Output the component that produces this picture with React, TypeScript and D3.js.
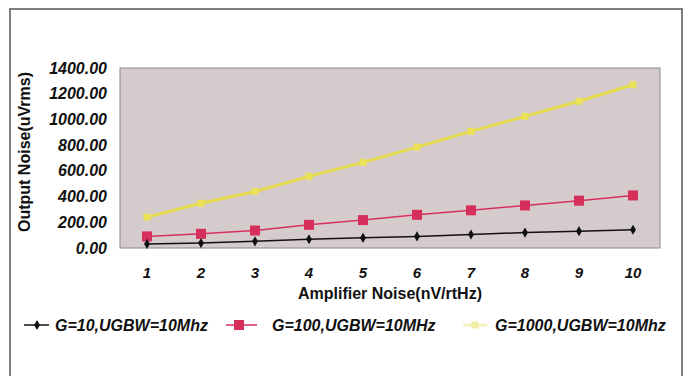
import React from "react";
import * as d3 from "d3";

const categories = [1, 2, 3, 4, 5, 6, 7, 8, 9, 10];
const g10 = [32, 38, 52, 68, 79, 90, 105, 120, 131, 142];
const g100 = [90, 110, 136, 180, 217, 258, 293, 331, 368, 409];
const g1000 = [240, 348, 440, 557, 666, 785, 907, 1024, 1141, 1270];
const yTicks = [0, 200, 400, 600, 800, 1000, 1200, 1400];
const seriesNames = ["G=10,UGBW=10Mhz", "G=100,UGBW=10MHz", "G=1000,UGBW=10Mhz"];

export default function App() {
  const W = 688, H = 376;
  const L = 120, R = 660, T = 68, B = 248;
  const x = d3.scaleBand<number>().domain(categories).range([L, R]);
  const y = d3.scaleLinear().domain([0, 1400]).range([B, T]);
  const cx = (c: number) => (x(c) as number) + x.bandwidth() / 2;
  const line = d3.line<number>().x((_, i) => cx(categories[i])).y((v) => y(v));
  const font = "Arial, 'Liberation Sans', sans-serif";
  const diamond = d3.symbol().type(d3.symbolDiamond).size(30)() as string;
  const red = "#d62f5c";
  const ly = 325;

  return (
    <svg width={W} height={H} style={{ position: "absolute", left: 0, top: 0 }} fontFamily={font}>
      <rect x={0} y={0} width={W} height={H} fill="#fff" />
      <rect x={10} y={9} width={672} height={380} fill="none" stroke="#555" strokeWidth={1.5} />
      <rect x={L} y={T} width={R - L} height={B - T} fill="#d5cbcd" stroke="#8a8a8a" strokeWidth={1} />
      {yTicks.map((t) => (
        <text key={t} x={107} y={y(t)} dy="0.35em" textAnchor="end" fontSize={16} fontWeight="bold" fontStyle="italic" fill="#111">
          {t.toFixed(2)}
        </text>
      ))}
      {categories.map((c) => (
        <text key={c} x={cx(c)} y={273} dy="0.35em" textAnchor="middle" fontSize={15} fontWeight="bold" fontStyle="italic" fill="#111">
          {c}
        </text>
      ))}
      <text x={(L + R) / 2} y={293} dy="0.35em" textAnchor="middle" fontSize={16} fontWeight="bold" fill="#111">
        Amplifier Noise(nV/rtHz)
      </text>
      <text transform={`translate(24,152) rotate(-90)`} textAnchor="middle" dy="0.35em" fontSize={16} fontWeight="bold" fill="#111">
        Output Noise(uVrms)
      </text>
      <path d={line(g1000) as string} fill="none" stroke="#e4da4c" strokeWidth={3} />
      {g1000.map((v, i) => (
        <rect key={i} x={cx(categories[i]) - 3.5} y={y(v) - 3.5} width={7} height={7} fill="#ebe25a" />
      ))}
      <path d={line(g100) as string} fill="none" stroke={red} strokeWidth={1.5} />
      {g100.map((v, i) => (
        <rect key={i} x={cx(categories[i]) - 5} y={y(v) - 5} width={10} height={10} fill={red} />
      ))}
      <path d={line(g10) as string} fill="none" stroke="#111" strokeWidth={1.5} />
      {g10.map((v, i) => (
        <path key={i} d={diamond} transform={`translate(${cx(categories[i])},${y(v)})`} fill="#111" />
      ))}
      <g fontSize={16} fontWeight="bold" fontStyle="italic" fill="#111">
        <line x1={24} x2={49} y1={ly} y2={ly} stroke="#111" strokeWidth={1.5} />
        <path d={diamond} transform={`translate(37,${ly})`} fill="#111" />
        <text x={55} y={ly} dy="0.35em">{seriesNames[0]}</text>
        <line x1={226} x2={257} y1={ly} y2={ly} stroke={red} strokeWidth={1.5} />
        <rect x={234} y={ly - 5} width={10} height={10} fill={red} />
        <text x={272} y={ly} dy="0.35em">{seriesNames[1]}</text>
        <line x1={463} x2={487} y1={ly} y2={ly} stroke="#f5f2c0" strokeWidth={3} />
        <rect x={471.5} y={ly - 3.5} width={7} height={7} fill="#f2eca8" />
        <text x={495} y={ly} dy="0.35em">{seriesNames[2]}</text>
      </g>
    </svg>
  );
}
